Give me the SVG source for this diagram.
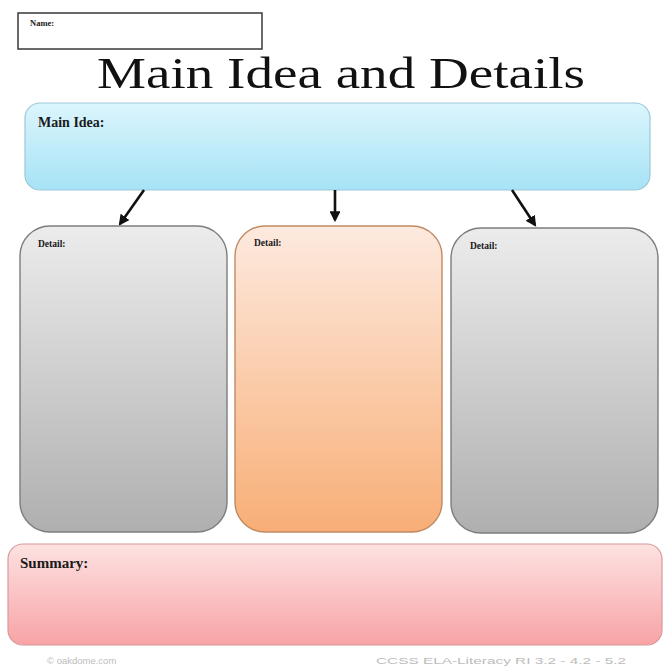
<svg xmlns="http://www.w3.org/2000/svg" width="664" height="670" viewBox="0 0 664 670">
<style>
.lbl{font-family:"Liberation Serif","Times New Roman",serif;font-weight:bold;fill:#1a1a1a}
.foot{font-family:"Liberation Sans",Arial,sans-serif;font-size:9.5px;fill:#bcbcbc}
.conn{stroke:#111;stroke-width:2.6;fill:none;marker-end:url(#ah)}
</style>
<defs>
<linearGradient id="gBlue" x1="0" y1="0" x2="0" y2="1"><stop offset="0" stop-color="#dcf5fc"/><stop offset="1" stop-color="#a6e3f6"/></linearGradient>
<linearGradient id="gGray" x1="0" y1="0" x2="0" y2="1"><stop offset="0" stop-color="#ececec"/><stop offset="1" stop-color="#afafaf"/></linearGradient>
<linearGradient id="gOrange" x1="0" y1="0" x2="0" y2="1"><stop offset="0" stop-color="#fdeadf"/><stop offset="1" stop-color="#f8ae76"/></linearGradient>
<linearGradient id="gPink" x1="0" y1="0" x2="0" y2="1"><stop offset="0" stop-color="#fde2e2"/><stop offset="1" stop-color="#f8a3a6"/></linearGradient>
<marker id="ah" viewBox="0 0 10 10" refX="8" refY="5" markerWidth="4.2" markerHeight="4.2" orient="auto"><path d="M0,0 L10,5 L0,10 z" fill="#111"/></marker>
</defs>
<rect width="664" height="670" fill="#fff"/>
<g id="name">
<rect x="18" y="13" width="244" height="36" fill="#fff" stroke="#444" stroke-width="1.6"/>
<text x="30" y="26" class="lbl" font-size="8.5">Name:</text>
</g>
<g id="title">
<text x="97" y="88" font-family="'Liberation Serif','Times New Roman',serif" font-size="44" fill="#111" textLength="488" lengthAdjust="spacingAndGlyphs">Main Idea and Details</text>
</g>
<g id="mainidea">
<rect x="25" y="103" width="625" height="87" rx="15" fill="url(#gBlue)" stroke="#9cc8d8" stroke-width="1.2"/>
<text x="38" y="127" class="lbl" font-size="14">Main Idea:</text>
</g>
<g id="connectors">
<line class="conn" x1="144" y1="190" x2="120" y2="224"/>
<line class="conn" x1="335" y1="190" x2="335" y2="220"/>
<line class="conn" x1="512" y1="190" x2="535" y2="225"/>
</g>
<g id="detail1">
<rect x="20" y="226" width="207" height="306" rx="30" fill="url(#gGray)" stroke="#7d7d7d" stroke-width="1.4"/>
<text x="38" y="247" class="lbl" font-size="9.5">Detail:</text>
</g>
<g id="detail2">
<rect x="235" y="226" width="207" height="306" rx="30" fill="url(#gOrange)" stroke="#c08a62" stroke-width="1.4"/>
<text x="254" y="246" class="lbl" font-size="9.5">Detail:</text>
</g>
<g id="detail3">
<rect x="451" y="228" width="207" height="305" rx="30" fill="url(#gGray)" stroke="#7d7d7d" stroke-width="1.4"/>
<text x="470" y="249" class="lbl" font-size="9.5">Detail:</text>
</g>
<g id="summary">
<rect x="8" y="544" width="654" height="101" rx="15" fill="url(#gPink)" stroke="#d59a9c" stroke-width="1.2"/>
<text x="20" y="568" class="lbl" font-size="15">Summary:</text>
</g>
<g id="footer">
<text x="47" y="664" class="foot">© oakdome.com</text>
<text x="376" y="664" class="foot" textLength="250" lengthAdjust="spacingAndGlyphs">CCSS ELA-Literacy  RI 3.2 - 4.2 - 5.2</text>
</g>
</svg>
